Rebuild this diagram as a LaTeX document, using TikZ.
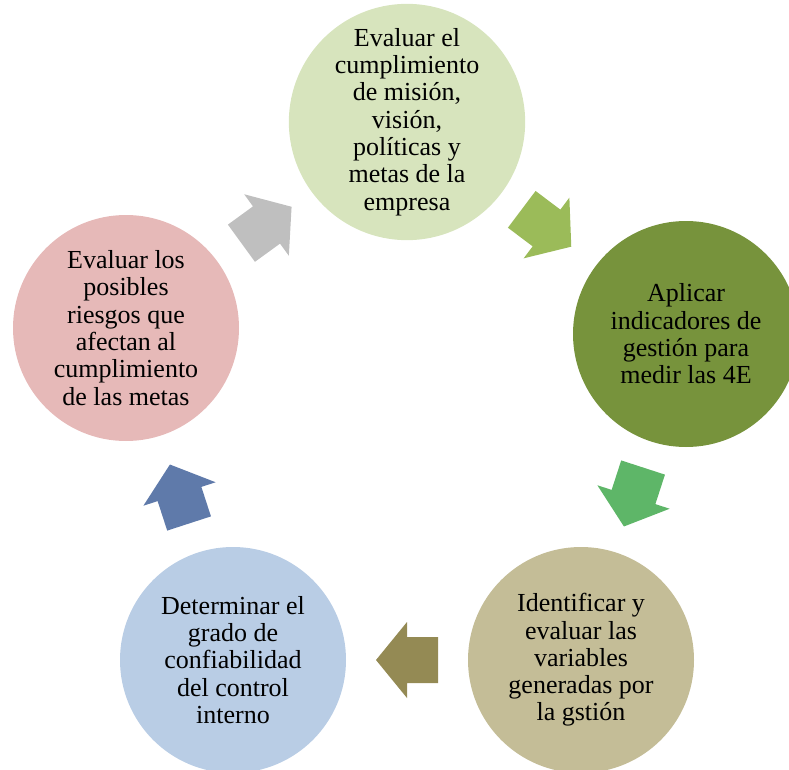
\documentclass[tikz,border=0pt]{standalone}
\usepackage{fontspec}
\setmainfont{Liberation Serif}
\usetikzlibrary{calc}
\definecolor{cTop}{HTML}{D7E4BD}
\definecolor{cRight}{HTML}{77933C}
\definecolor{cBR}{HTML}{C4BD97}
\definecolor{cBL}{HTML}{B9CDE5}
\definecolor{cLeft}{HTML}{E6B9B8}
\definecolor{aOne}{HTML}{9BBB59}
\definecolor{aTwo}{HTML}{5EB668}
\definecolor{aThree}{HTML}{948A54}
\definecolor{aFour}{HTML}{5F7AAA}
\definecolor{aFive}{HTML}{BFBFBF}
\begin{document}
\begin{tikzpicture}[x=1pt,y=1pt,
  stage/.style={circle, minimum size=226pt, inner sep=0pt, align=center,
    font=\fontsize{26}{27.3}\selectfont, text=black},
  pics/blockarrow/.style={code={
    \fill[#1] (-31,-23) -- (0,-23) -- (0,-38) -- (31,0) -- (0,38) -- (0,23) -- (-31,23) -- cycle;}}]
\useasboundingbox (0,0) rectangle (789,-770);
\clip (0,0) rectangle (789,-770);
\node[stage, fill=cTop] (t) at (407,-122) {Evaluar el\\cumplimiento\\de misión,\\visión,\\políticas y\\metas de la\\empresa};
\node[stage, fill=cRight] (r) at (686,-334) {Aplicar\\indicadores de\\gestión para\\medir las 4E};
\node[stage, fill=cBR] (br) at (581,-660) {Identificar y\\evaluar las\\variables\\generadas por\\la gstión};
\node[stage, fill=cBL] (bl) at (233,-660) {Determinar el\\grado de\\confiabilidad\\del control\\interno};
\node[stage, fill=cLeft] (l) at (126,-328) {Evaluar los\\posibles\\riesgos que\\afectan al\\cumplimiento\\de las metas};
\pic[rotate=-37] at ($(t)!0.5!(r)$) {blockarrow=aOne};
\pic[rotate=-108] at ($(r)!0.5!(br)$) {blockarrow=aTwo};
\pic[rotate=180] at ($(br)!0.5!(bl)$) {blockarrow=aThree};
\pic[rotate=108] at ($(bl)!0.5!(l)$) {blockarrow=aFour};
\pic[rotate=36] at ($(l)!0.5!(t)$) {blockarrow=aFive};
\end{tikzpicture}
\end{document}
